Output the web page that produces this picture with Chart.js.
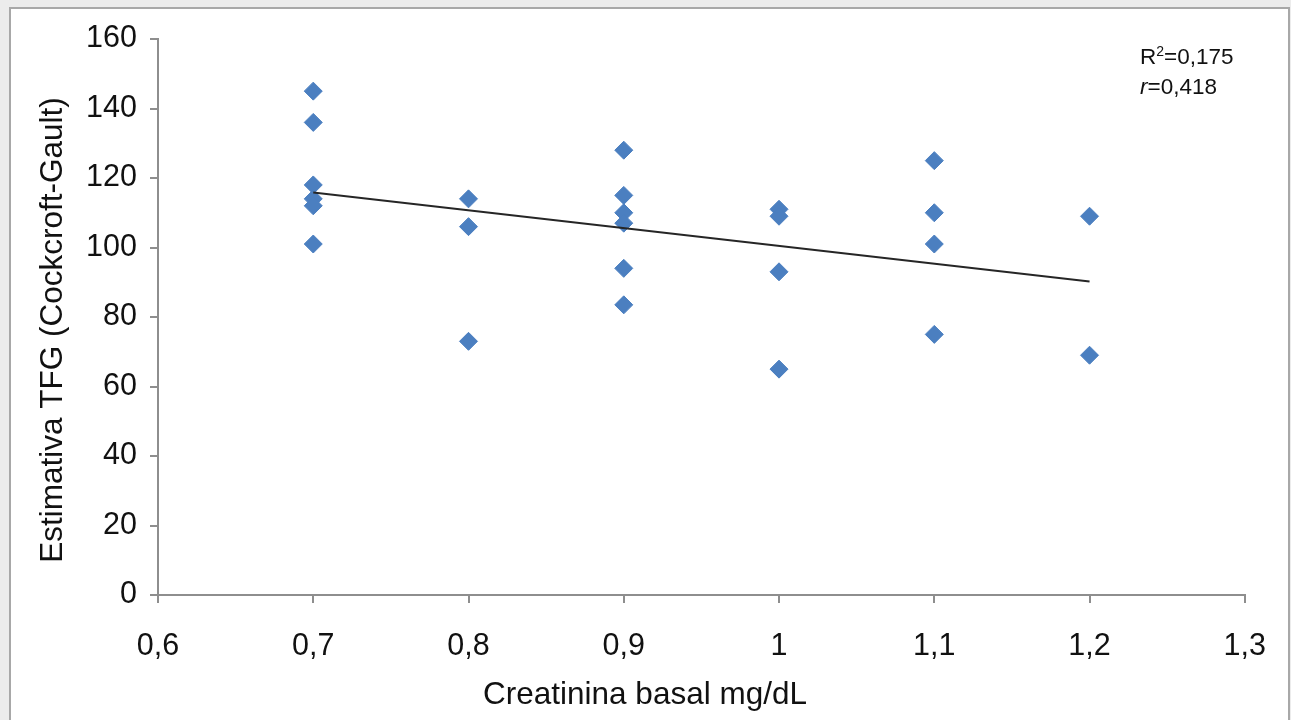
<!DOCTYPE html>
<html>
<head>
<meta charset="utf-8">
<script src="https://cdn.jsdelivr.net/npm/chart.js@4"></script>
<style>
  body { margin: 0; background: #ececec; }
  #wrap { position: relative; width: 1291px; height: 720px; overflow: hidden; }
  #frame {
    position: absolute; left: 9px; top: 7px; width: 1277px; height: 730px;
    border: 2px solid #a8a8a8; background: #fff;
  }
  #chart { position: absolute; left: 0; top: 0; }
  #stats {
    position: absolute; left: 1140px; top: 43px;
    font: 22.5px "Liberation Sans", Arial, sans-serif; line-height: 27px; color: #111;
  }
  #stats .sup { font-size: 14px; position: relative; top: -8px; }
</style>
</head>
<body>
<div id="wrap">
  <div id="frame"></div>
  <canvas id="chart" width="1291" height="720"></canvas>
  <div id="stats">R<span class="sup">2</span>=0,175<br><i>r</i>=0,418</div>
</div>
<script>
// Creatinina basal (mg/dL) vs estimativa TFG
const creatinina = [
  0.7, 0.7, 0.7, 0.7, 0.7, 0.7,
  0.8, 0.8, 0.8,
  0.9, 0.9, 0.9, 0.9, 0.9, 0.9,
  1.0, 1.0, 1.0, 1.0,
  1.1, 1.1, 1.1, 1.1,
  1.2, 1.2,
];
const tfg = [
  145, 136, 118, 114, 112, 101,
  114, 106, 73,
  128, 115, 110, 107, 94, 83.5,
  111, 109, 93, 65,
  125, 110, 101, 75,
  109, 69,
];

// trend line end points
const trendX = [0.7, 1.2];
const trendY = [115.8, 90.2];

const xTicks = [0.6, 0.7, 0.8, 0.9, 1.0, 1.1, 1.2, 1.3];
const yTicks = [0, 20, 40, 60, 80, 100, 120, 140, 160];

const xTitle = "Creatinina basal mg/dL";
const yTitle = "Estimativa TFG (Cockcroft-Gault)";

const font = "'Liberation Sans', Arial, sans-serif";
const axisGray = "#8e8e8e";

const points = creatinina.map((x, i) => ({ x: x, y: tfg[i] }));
const trend = trendX.map((x, i) => ({ x: x, y: trendY[i] }));

const fmt = (v) => Number(v.toFixed(1)).toString().replace(".", ",");

// the axis titles in the original are not centred on the plot area,
// so they are drawn here instead of by the scales
const axisTitles = {
  id: "axisTitles",
  afterDraw(chart) {
    const ctx = chart.ctx;
    ctx.save();
    ctx.fillStyle = "#111";
    ctx.font = `31.5px ${font}`;
    ctx.textAlign = "center";
    ctx.textBaseline = "alphabetic";
    ctx.fillText(xTitle, 645, 704);

    ctx.translate(62, 330);
    ctx.rotate(-Math.PI / 2);
    ctx.fillText(yTitle, 0, 0);
    ctx.restore();
  },
};

new Chart(document.getElementById("chart"), {
  type: "scatter",
  data: {
    datasets: [
      {
        label: "trend",
        data: trend,
        showLine: true,
        borderColor: "#262626",
        borderWidth: 2,
        pointRadius: 0,
        fill: false,
      },
      {
        label: "TFG",
        data: points,
        pointStyle: "rectRot",
        pointRadius: 9,
        pointHoverRadius: 9,
        backgroundColor: "#4b7fc0",
        borderColor: "#4b7fc0",
        borderWidth: 1,
      },
    ],
  },
  plugins: [axisTitles],
  options: {
    responsive: false,
    animation: false,
    layout: { padding: { left: 0, top: 39, right: 46, bottom: 0 } },
    plugins: {
      legend: { display: false },
      tooltip: { enabled: false },
    },
    scales: {
      x: {
        type: "linear",
        min: 0.6,
        max: 1.3,
        afterBuildTicks: (scale) => {
          scale.ticks = xTicks.map((v) => ({ value: v }));
        },
        afterFit: (scale) => {
          scale.height = 125;
        },
        border: { color: axisGray, width: 2 },
        grid: {
          drawOnChartArea: false,
          color: axisGray,
          lineWidth: 2,
          tickLength: 8,
        },
        ticks: {
          color: "#111",
          font: { family: font, size: 30.5 },
          padding: 25,
          maxRotation: 0,
          callback: (v) => fmt(v),
        },
      },
      y: {
        min: 0,
        max: 160,
        afterBuildTicks: (scale) => {
          scale.ticks = yTicks.map((v) => ({ value: v }));
        },
        afterFit: (scale) => {
          scale.width = 158;
        },
        border: { color: axisGray, width: 2 },
        grid: {
          drawOnChartArea: false,
          color: axisGray,
          lineWidth: 2,
          tickLength: 8,
        },
        ticks: {
          color: "#111",
          font: { family: font, size: 30.5 },
          padding: 13,
          callback: (v) => String(v),
        },
      },
    },
  },
});
</script>
</body>
</html>
